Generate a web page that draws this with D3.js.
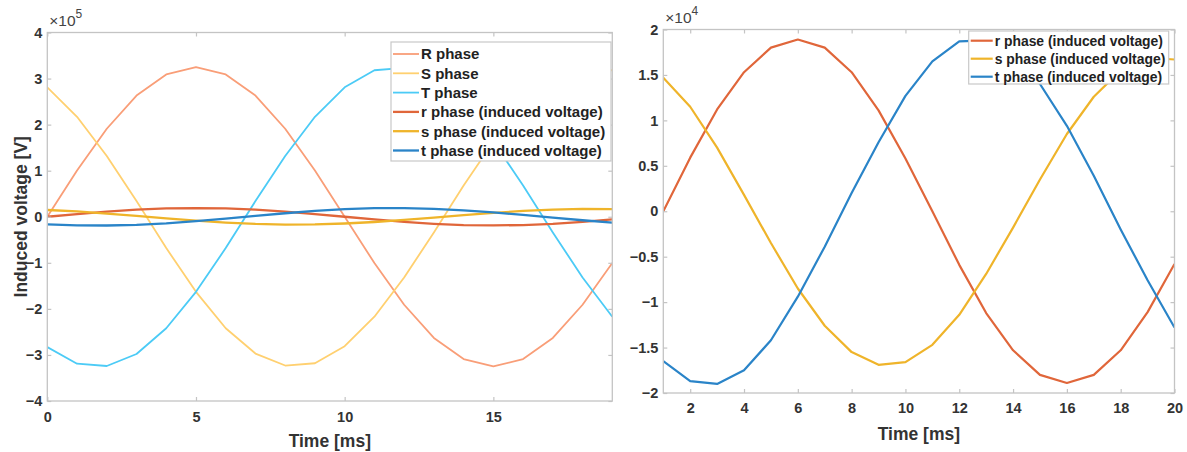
<!DOCTYPE html>
<html>
<head>
<meta charset="utf-8">
<script src="https://cdn.jsdelivr.net/npm/d3@7/dist/d3.min.js"></script>
<style>
  body { margin: 0; background: #fff; }
  text { font-family: "Liberation Sans", Arial, Helvetica, sans-serif; }
</style>
</head>
<body>
<script>
// time axes [ms]
const timeLeft  = [0, 1, 2, 3, 4, 5, 6, 7, 8, 9, 10, 11, 12, 13, 14, 15, 16, 17, 18, 19];
const timeRight = [1, 2, 3, 4, 5, 6, 7, 8, 9, 10, 11, 12, 13, 14, 15, 16, 17, 18, 19, 20];

// supply voltages [V]
const phaseR = [0, 100500, 191000, 263000, 309000, 325000, 309000, 263000, 191000, 100500,
                0, -100500, -191000, -263000, -309000, -325000, -309000, -263000, -191000, -100500];
const phaseS = [281000, 217000, 132000, 34000, -68000, -163000, -242000, -297000, -323000, -318000,
                -281000, -217000, -132000, -34000, 68000, 163000, 242000, 297000, 323000, 318000];
const phaseT = [-283000, -319000, -324000, -298000, -242000, -163000, -68000, 34000, 132000, 217000,
                281000, 318000, 323000, 297000, 242000, 163000, 68000, -34000, -132000, -217000];

// induced voltages [V]
const inducedR = [0, 5900, 11200, 15300, 18000, 18900, 18000, 15300, 11100, 5800,
                  0, -5900, -11200, -15300, -18000, -18900, -18000, -15300, -11100, -5800];
const inducedS = [14700, 11500, 7000, 1800, -3500, -8500, -12600, -15500, -16900, -16600,
                  -14700, -11400, -6900, -1800, 3500, 8500, 12600, 15500, 16900, 16700];
const inducedT = [-16500, -18700, -19000, -17500, -14200, -9400, -3900, 2000, 7600, 12700,
                  16500, 18700, 18800, 17300, 14000, 9400, 3900, -2000, -7600, -12800];

// tick values
const leftXTicks  = [0, 5, 10, 15];
const leftYTicks  = [-400000, -300000, -200000, -100000, 0, 100000, 200000, 300000, 400000];
const rightXTicks = [2, 4, 6, 8, 10, 12, 14, 16, 18, 20];
const rightYTicks = [-20000, -15000, -10000, -5000, 0, 5000, 10000, 15000, 20000];

const W = 1187, H = 452;
const svg = d3.select("body").append("svg")
    .attr("width", W)
    .attr("height", H);

const axisColor = "#c4c4c4";
const labelColor = "#333";

function drawPanel(p) {
  const x = d3.scaleLinear().domain(p.xDomain).range([p.left, p.right]);
  const y = d3.scaleLinear().domain(p.yDomain).range([p.bottom, p.top]);
  const g = svg.append("g");

  // clip
  g.append("clipPath").attr("id", p.id + "-clip")
    .append("rect")
    .attr("x", p.left).attr("y", p.top)
    .attr("width", p.right - p.left).attr("height", p.bottom - p.top);

  const line = d3.line()
      .x(d => x(d[0]))
      .y(d => y(d[1]));

  const plot = g.append("g").attr("clip-path", "url(#" + p.id + "-clip)");
  p.series.forEach(function(s) {
    plot.append("path")
      .datum(p.time.map((t, i) => [t, s.values[i]]))
      .attr("d", line)
      .attr("fill", "none")
      .attr("stroke", s.color)
      .attr("stroke-width", s.width)
      .attr("stroke-linejoin", "round");
  });

  // axes (ticks pointing inward, like a boxed matlab axes)
  const yFmt = v => d3.format("~g")(v / p.scale);
  const styleAxis = function(sel, labels) {
    sel.select(".domain").remove();
    sel.selectAll(".tick line").attr("stroke", axisColor).attr("stroke-width", 1.2);
    sel.selectAll(".tick text")
      .attr("fill", labelColor)
      .attr("font-size", 14.5)
      .attr("font-weight", "bold")
      .style("display", labels ? null : "none");
  };

  g.append("g").attr("transform", "translate(0," + p.bottom + ")")
    .call(d3.axisBottom(x).tickValues(p.xTicks).tickSizeInner(-4).tickSizeOuter(0).tickPadding(p.xPad))
    .call(s => styleAxis(s, true));
  g.append("g").attr("transform", "translate(0," + p.top + ")")
    .call(d3.axisTop(x).tickValues(p.xTicks).tickSizeInner(-4).tickSizeOuter(0))
    .call(s => styleAxis(s, false));
  g.append("g").attr("transform", "translate(" + p.left + ",0)")
    .call(d3.axisLeft(y).tickValues(p.yTicks).tickFormat(yFmt).tickSizeInner(-4).tickSizeOuter(0).tickPadding(5))
    .call(s => styleAxis(s, true));
  g.append("g").attr("transform", "translate(" + p.right + ",0)")
    .call(d3.axisRight(y).tickValues(p.yTicks).tickSizeInner(-4).tickSizeOuter(0))
    .call(s => styleAxis(s, false));

  g.append("rect")
    .attr("x", p.left).attr("y", p.top)
    .attr("width", p.right - p.left).attr("height", p.bottom - p.top)
    .attr("fill", "none")
    .attr("stroke", axisColor)
    .attr("stroke-width", 1.3);

  // exponent label
  const ex = g.append("text")
    .attr("x", p.left + 2)
    .attr("y", p.top - 7)
    .attr("font-size", 15.5)
    .attr("fill", "#444");
  ex.append("tspan").text("\u00d710");
  ex.append("tspan").attr("dy", -8).attr("font-size", 12).text(p.exponent);

  // x label
  g.append("text")
    .attr("x", (p.left + p.right) / 2)
    .attr("y", p.xLabelY)
    .attr("text-anchor", "middle")
    .attr("font-size", 17.5)
    .attr("font-weight", "bold")
    .attr("fill", labelColor)
    .text("Time [ms]");

  if (p.yLabel) {
    g.append("text")
      .attr("transform", "translate(27," + ((p.top + p.bottom) / 2) + ") rotate(-90)")
      .attr("text-anchor", "middle")
      .attr("font-size", 17.5)
      .attr("font-weight", "bold")
      .attr("fill", labelColor)
      .text(p.yLabel);
  }

  // legend
  const L = p.legend;
  const lg = g.append("g");
  lg.append("rect")
    .attr("x", L.x).attr("y", L.y)
    .attr("width", L.w).attr("height", L.h)
    .attr("fill", "#fff")
    .attr("stroke", "#c8c8c8")
    .attr("stroke-width", 1.2);
  p.series.forEach(function(s, i) {
    const cy = L.y + L.first + i * L.step;
    lg.append("line")
      .attr("x1", L.x + 2).attr("x2", L.x + 2 + L.sample)
      .attr("y1", cy).attr("y2", cy)
      .attr("stroke", s.color)
      .attr("stroke-width", s.width);
    lg.append("text")
      .attr("x", L.x + 4 + L.sample)
      .attr("y", cy)
      .attr("dy", "0.36em")
      .attr("font-size", L.font)
      .attr("font-weight", "bold")
      .attr("fill", "#222")
      .text(s.name);
  });
}

const cR = "#f99e78", cS = "#ffd070", cT = "#4ccbf6";
const cr = "#e0663a", cs = "#efb42a", ct = "#2a84c8";

drawPanel({
  id: "left",
  left: 47.3, right: 612.3, top: 32.5, bottom: 401,
  xDomain: [0, 19], yDomain: [-400000, 400000],
  xTicks: leftXTicks, yTicks: leftYTicks, xPad: 11,
  scale: 1e5, exponent: "5",
  time: timeLeft,
  xLabelY: 447,
  yLabel: "Induced voltage [V]",
  series: [
    {name: "R phase", values: phaseR, color: cR, width: 1.8},
    {name: "S phase", values: phaseS, color: cS, width: 1.8},
    {name: "T phase", values: phaseT, color: cT, width: 1.8},
    {name: "r phase (induced voltage)", values: inducedR, color: cr, width: 2.3},
    {name: "s phase (induced voltage)", values: inducedS, color: cs, width: 2.3},
    {name: "t phase (induced voltage)", values: inducedT, color: ct, width: 2.3}
  ],
  legend: {x: 391, y: 42, w: 220, h: 119, first: 12, step: 19.3, sample: 26, font: 15}
});

drawPanel({
  id: "right",
  left: 663.3, right: 1174.5, top: 29.5, bottom: 393,
  xDomain: [1, 20], yDomain: [-20000, 20000],
  xTicks: rightXTicks, yTicks: rightYTicks, xPad: 10,
  scale: 1e4, exponent: "4",
  time: timeRight,
  xLabelY: 440,
  yLabel: null,
  series: [
    {name: "r phase (induced voltage)", values: inducedR, color: cr, width: 2.2},
    {name: "s phase (induced voltage)", values: inducedS, color: cs, width: 2.2},
    {name: "t phase (induced voltage)", values: inducedT, color: ct, width: 2.2}
  ],
  legend: {x: 968.7, y: 31, w: 200, h: 53, first: 9.7, step: 18, sample: 22, font: 13.9}
});
</script>
</body>
</html>
